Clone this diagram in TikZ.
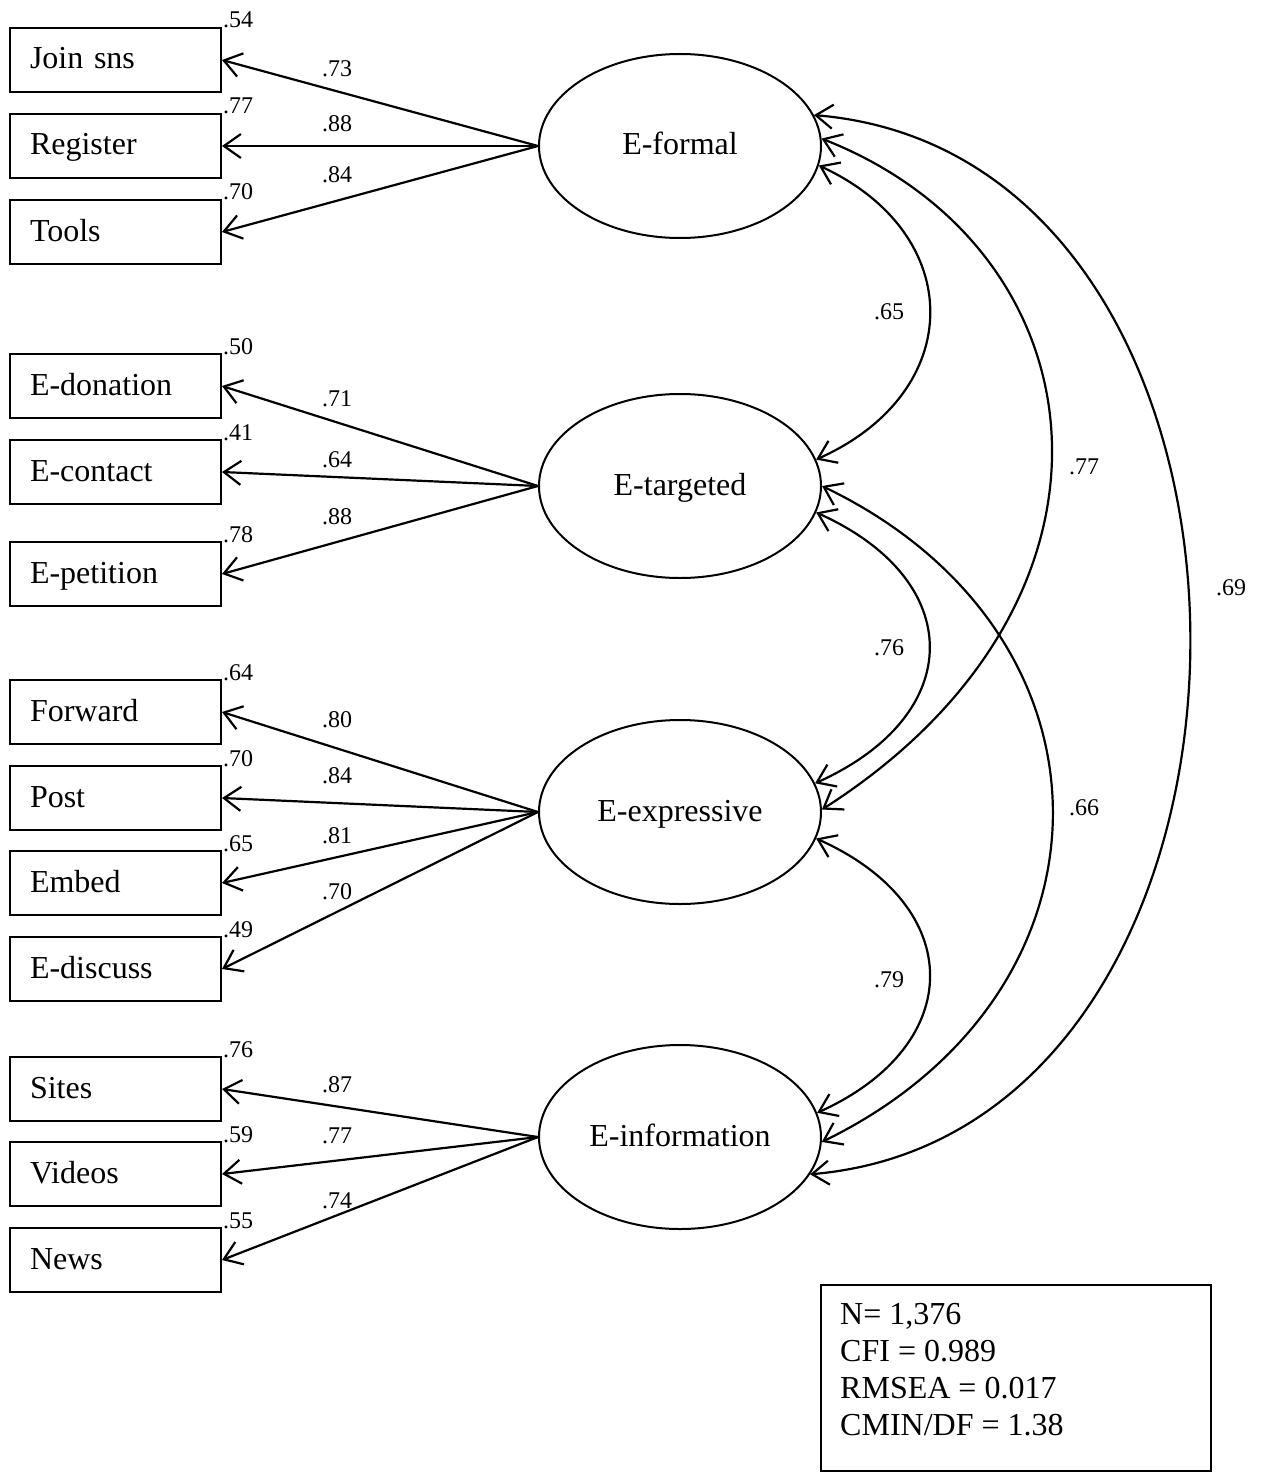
\documentclass[tikz,border=0pt]{standalone}
\usepackage{fontspec}
\setmainfont{Liberation Serif}
\usetikzlibrary{arrows.meta,shapes.geometric}
\newcommand{\bigtxt}{\fontsize{32pt}{37pt}\selectfont}
\newcommand{\smalltxt}{\fontsize{24pt}{28pt}\selectfont}
\begin{document}
\begin{tikzpicture}[x=1pt,y=-1pt,
  obs/.style={draw, line width=2pt, minimum width=211pt, minimum height=64pt,
    text width=171pt, inner xsep=20pt, inner ysep=0pt, align=left,
    text height=22pt, text depth=4pt, font=\bigtxt},
  lat/.style={draw, ellipse, line width=2pt, minimum width=282pt, minimum height=184pt,
    inner sep=0pt, text height=22pt, text depth=4pt, font=\bigtxt},
  lab/.style={font=\smalltxt, inner sep=0pt},
  res/.style={font=\smalltxt, inner sep=0pt, anchor=base west, xshift=1pt, yshift=-1pt},
  load/.style={line width=2.2pt, -{Straight Barb[length=17pt,width=24pt,line width=2.2pt]}},
  cov/.style={line width=2.2pt, {Straight Barb[length=17pt,width=24pt,line width=2.2pt]}-{Straight Barb[length=17pt,width=24pt,line width=2.2pt]}}
]
\useasboundingbox (0,0) rectangle (1263,1479);

% latent variables
\node[lat] (ef) at (680,146) {E-formal};
\node[lat] (et) at (680,486) {E-targeted};
\node[lat] (ex) at (680,812) {E-expressive};
\node[lat] (ei) at (680,1137) {E-information};

% observed variables
\node[obs] (o1) at (115.5,60) {Join sns};
\node[obs] (o2) at (115.5,146) {Register};
\node[obs] (o3) at (115.5,232) {Tools};
\node[obs] (o4) at (115.5,386) {E-donation};
\node[obs] (o5) at (115.5,472) {E-contact};
\node[obs] (o6) at (115.5,574) {E-petition};
\node[obs] (o7) at (115.5,712) {Forward};
\node[obs] (o8) at (115.5,798) {Post};
\node[obs] (o9) at (115.5,883) {Embed};
\node[obs] (o10) at (115.5,969) {E-discuss};
\node[obs] (o11) at (115.5,1089) {Sites};
\node[obs] (o12) at (115.5,1174) {Videos};
\node[obs] (o13) at (115.5,1260) {News};

% squared multiple correlations
\node[res] (r1) at (o1.north east) {.54};
\node[res] (r2) at (o2.north east) {.77};
\node[res] (r3) at (o3.north east) {.70};
\node[res] (r4) at (o4.north east) {.50};
\node[res] (r5) at (o5.north east) {.41};
\node[res] (r6) at (o6.north east) {.78};
\node[res] (r7) at (o7.north east) {.64};
\node[res] (r8) at (o8.north east) {.70};
\node[res] (r9) at (o9.north east) {.65};
\node[res] (r10) at (o10.north east) {.49};
\node[res] (r11) at (o11.north east) {.76};
\node[res] (r12) at (o12.north east) {.59};
\node[res] (r13) at (o13.north east) {.55};

% loadings
\draw[load] (ef.west) -- (o1.east);
\draw[load] (ef.west) -- (o2.east);
\draw[load] (ef.west) -- (o3.east);
\draw[load] (et.west) -- (o4.east);
\draw[load] (et.west) -- (o5.east);
\draw[load] (et.west) -- (o6.east);
\draw[load] (ex.west) -- (o7.east);
\draw[load] (ex.west) -- (o8.east);
\draw[load] (ex.west) -- (o9.east);
\draw[load] (ex.west) -- (o10.east);
\draw[load] (ei.west) -- (o11.east);
\draw[load] (ei.west) -- (o12.east);
\draw[load] (ei.west) -- (o13.east);

\node[lab] (l1) at (337,69) {.73};
\node[lab] (l2) at (337,124) {.88};
\node[lab] (l3) at (337,175) {.84};
\node[lab] (l4) at (337,399) {.71};
\node[lab] (l5) at (337,460) {.64};
\node[lab] (l6) at (337,517) {.88};
\node[lab] (l7) at (337,720) {.80};
\node[lab] (l8) at (337,776) {.84};
\node[lab] (l9) at (337,836) {.81};
\node[lab] (l10) at (337,892) {.70};
\node[lab] (l11) at (337,1085) {.87};
\node[lab] (l12) at (337,1136) {.77};
\node[lab] (l13) at (337,1201) {.74};

% covariances
\draw[cov] (ef.-8.5) .. controls (967,234) and (967,392) .. (et.11);
\draw[cov] (et.-11) .. controls (967,580) and (967,715) .. (ex.12);
\draw[cov] (ex.-11) .. controls (967,906) and (967,1045) .. (ei.10);
\draw[cov] (ef.3) .. controls (1105,250) and (1150,600) .. (ex.1);
\draw[cov] (et.0) .. controls (1130,634) and (1128,993) .. (ei.-2);
\draw[cov] (ef.13) .. controls (1318,157) and (1313,1131) .. (ei.-16);

\node[lab] (c1) at (889,312) {.65};
\node[lab] (c2) at (889,648) {.76};
\node[lab] (c3) at (889,980) {.79};
\node[lab] (c4) at (1084,467) {.77};
\node[lab] (c5) at (1084,808) {.66};
\node[lab] (c6) at (1231,588) {.69};

% fit box
\node[draw, line width=1.6pt, minimum width=390pt, minimum height=186pt,
  anchor=north west, inner sep=0pt] (fitbox) at (820,1284) {};
\node[anchor=north west, align=left, inner sep=0pt, font=\bigtxt] (fittext)
  at (840,1303) {N= 1,376\\CFI = 0.989\\RMSEA = 0.017\\CMIN/DF = 1.38};
\end{tikzpicture}
\end{document}
